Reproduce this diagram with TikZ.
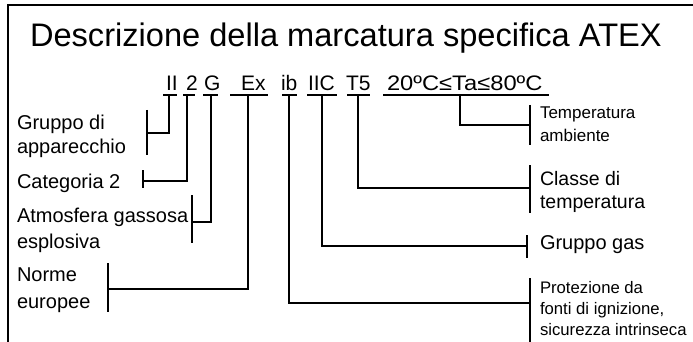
\documentclass[tikz,border=0pt]{standalone}
\usepackage{fontspec}
\setmainfont{Liberation Sans}
\usetikzlibrary{calc}
\begin{document}
\begin{tikzpicture}[x=1pt,y=-1pt,line width=2pt,
  titlefont/.style={inner sep=0,anchor=base west,font=\fontsize{32.6}{33}\selectfont},
  tok/.style={inner sep=0,anchor=base west,font=\fontsize{21}{21}\selectfont},
  lbl/.style={inner sep=0,anchor=base west,align=left},
  bar/.style={line width=2.4pt},
  conn/.style={line width=2pt}]
\useasboundingbox (0,0) rectangle (693,342);
% frame
\draw (8,342) -- (8,5) -- (693,5);
% title
\node[titlefont] (title) at (29,47) {Descrizione della marcatura specifica ATEX};
% code tokens
\node[tok] (t1) at (165,90.5) {II};
\node[tok] (t2) at (185,90.5) {2};
\node[tok] (t3) at (203,90.5) {G};
\node[tok] (t4) at (240,90.5) {Ex};
\node[tok] (t5) at (280,90.5) {ib};
\node[tok] (t6) at (307,90.5) {IIC};
\node[tok] (t7) at (345,90.5) {T5};
\node[tok] (t8) at (386,90.5) {\scalebox{1.13}[1]{20ºC≤Ta≤80ºC}};
% underlines
\coordinate (u1a) at (163,95); \coordinate (u1b) at (177,95);
\coordinate (u2a) at (183,95); \coordinate (u2b) at (195,95);
\coordinate (u3a) at (203,95); \coordinate (u3b) at (218,95);
\coordinate (u4a) at (230,95); \coordinate (u4b) at (268,95);
\coordinate (u5a) at (282,95); \coordinate (u5b) at (297,95);
\coordinate (u6a) at (307,95); \coordinate (u6b) at (337,95);
\coordinate (u7a) at (347,95); \coordinate (u7b) at (370,95);
\coordinate (u8a) at (383,95); \coordinate (u8b) at (549,95);
\foreach \i in {1,...,8} {\draw[conn] (u\i a) -- (u\i b);}
% drop points
\coordinate (d1) at (169,95);
\coordinate (d2) at (187,95);
\coordinate (d3) at (211,95);
\coordinate (d4) at (248,95);
\coordinate (d5) at (289,95);
\coordinate (d6) at (322,95);
\coordinate (d7) at (358,95);
\coordinate (d8) at (460,95);
% labels (anchored at the baseline of their last line)
\node[lbl,font=\fontsize{20}{24.5}\selectfont] (l1) at (16,153.5) {Gruppo di\\apparecchio};
\node[lbl,font=\fontsize{20}{24.5}\selectfont] (l2) at (16,188) {Categoria 2};
\node[lbl,font=\fontsize{20}{26}\selectfont] (l3) at (16,248) {Atmosfera gassosa\\esplosiva};
\node[lbl,font=\fontsize{20}{27}\selectfont] (l4) at (16,308) {Norme\\europee};
\node[lbl,font=\fontsize{17}{24}\selectfont] (r8) at (539,142) {Temperatura\\ambiente};
\node[lbl,font=\fontsize{19.5}{23}\selectfont] (r7) at (539,208) {Classe di\\temperatura};
\node[lbl,font=\fontsize{20}{23}\selectfont] (r6) at (539,249) {Gruppo gas};
\node[lbl,font=\fontsize{16.7}{21}\selectfont] (r5) at (539,335) {Protezione da\\fonti di ignizione,\\sicurezza intrinseca};
% bars
\coordinate (b1t) at (147,110); \coordinate (b1b) at (147,155); \coordinate (b1m) at (147,133);
\coordinate (b2t) at (143,170); \coordinate (b2b) at (143,188); \coordinate (b2m) at (143,181);
\coordinate (b3t) at (192,195); \coordinate (b3b) at (192,243); \coordinate (b3m) at (192,222);
\coordinate (b4t) at (108,263); \coordinate (b4b) at (108,312); \coordinate (b4m) at (108,289);
\coordinate (b5t) at (530,278); \coordinate (b5b) at (530,342); \coordinate (b5m) at (530,303);
\coordinate (b6t) at (527,235); \coordinate (b6b) at (527,258); \coordinate (b6m) at (527,246);
\coordinate (b7t) at (530,165); \coordinate (b7b) at (530,213); \coordinate (b7m) at (530,188);
\coordinate (b8t) at (530,105); \coordinate (b8b) at (530,145); \coordinate (b8m) at (530,125);
\foreach \i in {1,...,8} {
  \draw[bar] (b\i t) -- (b\i b);
  \draw[conn] (d\i) |- (b\i m);
}
\end{tikzpicture}
\end{document}
